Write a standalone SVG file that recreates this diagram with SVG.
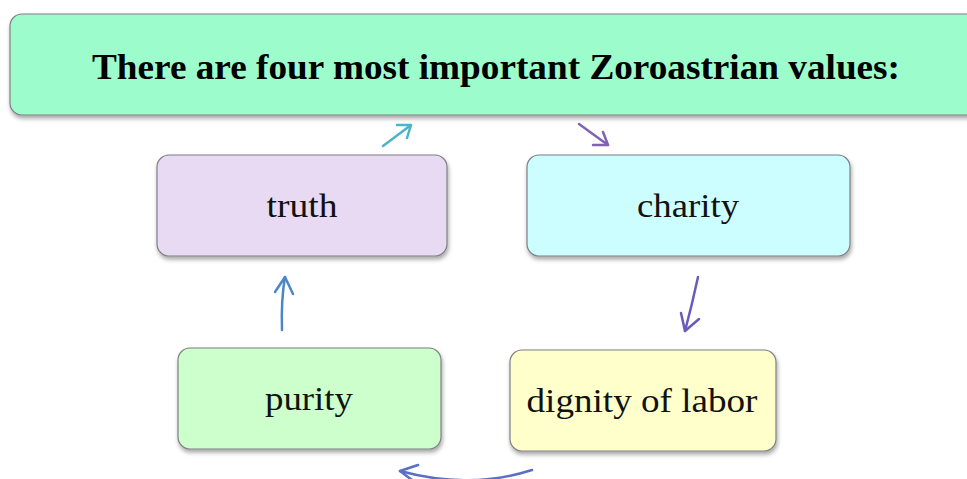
<svg xmlns="http://www.w3.org/2000/svg" width="967" height="479" viewBox="0 0 967 479">
<defs>
<filter id="sh" x="-10%" y="-10%" width="120%" height="130%">
<feDropShadow dx="1" dy="3" stdDeviation="2" flood-color="#000" flood-opacity="0.35"/>
</filter>
</defs>
<style>
.box{stroke:#7f7f86;stroke-width:1.2;filter:url(#sh)}
.t{font-family:"Liberation Serif","DejaVu Serif",serif;font-size:33px;fill:#111;text-anchor:middle}
.title{font-family:"Liberation Serif","DejaVu Serif",serif;font-size:35px;font-weight:bold;fill:#000;text-anchor:middle}
.c{fill:none;stroke-width:2.5;stroke-linecap:round;stroke-linejoin:round}
</style>
<rect width="967" height="479" fill="#fff"/>
<g id="title">
<rect class="box" x="10" y="14" width="975" height="101" rx="12" fill="#9dfccb"/>
<text class="title" x="496" y="79" textLength="808" lengthAdjust="spacingAndGlyphs">There are four most important Zoroastrian values:</text>
</g>
<g id="truth">
<rect class="box" x="157" y="155" width="290" height="101" rx="12" fill="#e8daf3"/>
<text class="t" x="302" y="217" textLength="71" lengthAdjust="spacingAndGlyphs">truth</text>
</g>
<g id="charity">
<rect class="box" x="527" y="155" width="323" height="101" rx="12" fill="#ccfdff"/>
<text class="t" x="688" y="217" textLength="102" lengthAdjust="spacingAndGlyphs">charity</text>
</g>
<g id="purity">
<rect class="box" x="178" y="348" width="263" height="101" rx="12" fill="#ccffcc"/>
<text class="t" x="309" y="410" textLength="88" lengthAdjust="spacingAndGlyphs">purity</text>
</g>
<g id="dignity">
<rect class="box" x="510" y="350" width="266" height="101" rx="12" fill="#ffffcc"/>
<text class="t" x="642" y="412" textLength="231" lengthAdjust="spacingAndGlyphs">dignity of labor</text>
</g>
<g id="connectors">
<g stroke="#4cb3cc" class="c">
<path d="M383,146 L411,125"/>
<path d="M397,125 L411,125 L407,138"/>
</g>
<g stroke="#8063b3" class="c">
<path d="M579,124 L608,145"/>
<path d="M593,145 L608,145 L603,132"/>
</g>
<g stroke="#6a5bbd" class="c">
<path d="M698,277 Q692,305 685,331"/>
<path d="M681,313 L685,331 L699,319"/>
</g>
<g stroke="#4d86c6" class="c">
<path d="M282,330 Q281,300 285,277"/>
<path d="M275,292 L285,277 L293,294"/>
</g>
<g stroke="#5b6fc3" class="c">
<path d="M532,470 Q470,490 400,471"/>
<path d="M418,465 L400,471 L412,480"/>
</g>
</g>
</svg>
